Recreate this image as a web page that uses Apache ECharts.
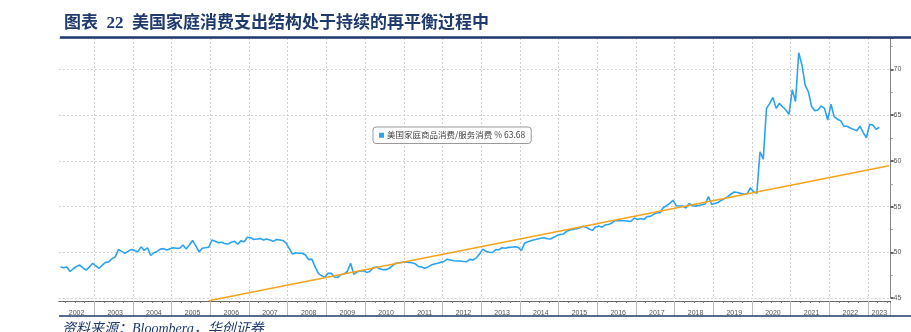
<!DOCTYPE html>
<html><head><meta charset="utf-8">
<script src="https://cdn.jsdelivr.net/npm/echarts@6/dist/echarts.min.js"></script>
<style>html,body{margin:0;padding:0;background:#fff}#c{width:911px;height:332px}</style>
</head><body><div id="c"></div>
<script>
const years = ['2002','2003','2004','2005','2006','2007','2008','2009','2010','2011','2012','2013','2014','2015','2016','2017','2018','2019','2020','2021','2022','2023'];
const yTicks = [45,50,55,60,65,70];
const seriesName = '美国家庭商品消费/服务消费';
// monthly values, 2002 starts in Feb, 2023 ends in Apr
const v2002 = [48.4,48.3,48.4,47.9,48.2,48.45,48.6,48.3,48.05,48.4,48.8];
const v2003 = [48.5,48.25,48.6,48.9,48.95,49.3,49.5,50.3,50.1,49.9,50.1,50.3];
const v2004 = [50.2,50.05,50.6,50.2,50.5,49.65,49.95,50.1,50.35,50.4,50.25,50.4];
const v2005 = [50.5,50.45,50.45,50.8,50.35,50.8,51.3,50.7,50.05,50.45,50.5,50.55];
const v2006 = [51.35,51.2,51.05,51.1,50.95,50.9,51.1,51.2,50.9,51.25,51.15,51.65];
const v2007 = [51.6,51.4,51.45,51.5,51.35,51.45,51.35,51.2,51.4,51.35,51.3,51.0];
const v2008 = [50.4,49.8,49.95,49.9,49.9,49.7,49.2,49.25,48.4,47.7,47.45,47.26];
const v2009 = [47.7,47.7,47.3,47.25,47.55,47.63,47.9,48.8,47.6,47.85,47.95,48.0];
const v2010 = [47.8,47.9,48.3,48.4,48.2,48.1,48.1,48.25,48.55,48.8,48.85,48.9];
const v2011 = [48.95,48.9,48.85,48.75,48.45,48.4,48.25,48.4,48.6,48.72,48.8,48.9];
const v2012 = [49.0,49.25,49.15,49.08,49.05,49.05,49.0,48.97,49.23,49.16,49.4,49.8];
const v2013 = [50.35,50.1,50.0,49.98,50.3,50.28,50.5,50.44,50.54,50.55,50.6,50.54];
const v2014 = [50.2,51.0,51.15,51.27,51.38,51.46,51.53,51.6,51.48,51.45,51.64,51.83];
const v2015 = [51.95,52.0,52.3,52.45,52.5,52.58,52.65,52.85,52.75,52.55,52.4,52.78];
const v2016 = [52.88,52.75,53.0,53.05,53.2,53.45,53.46,53.46,53.46,53.4,53.4,53.75];
const v2017 = [53.6,53.7,53.6,53.9,53.93,54.15,54.33,54.33,54.9,55.1,55.35,55.7];
const v2018 = [55.1,55.07,55.05,54.85,55.35,55.1,55.05,55.12,55.2,55.28,56.1,55.25];
const v2019 = [55.35,55.45,55.7,55.88,56.1,56.38,56.6,56.55,56.45,56.38,56.4,57.05];
const v2020 = [56.63,56.45,61.0,60.2,65.75,66.3,66.95,65.75,66.3,65.93,65.57,65.1];
const v2021 = [67.8,66.5,71.84,70.5,68.3,67.57,65.96,65.5,65.57,66.0,65.75,64.47];
const v2022 = [66.2,64.84,64.55,64.4,63.8,63.8,63.6,63.45,63.3,63.8,63.1,62.54];
const v2023 = [64.0,63.93,63.45,63.68];
const trendStart = ['2005-12', 44.7];
const trendEnd = ['2023-07', 59.48];

const categories = [];
years.forEach(y => {
  for (let m = 1; m <= 12; m++) {
    if (y === '2002' && m < 2) continue;
    if (y === '2023' && m > 7) continue;
    categories.push(y + '-' + String(m).padStart(2, '0'));
  }
});
const blue = [].concat(v2002,v2003,v2004,v2005,v2006,v2007,v2008,v2009,v2010,v2011,v2012,v2013,v2014,v2015,v2016,v2017,v2018,v2019,v2020,v2021,v2022,v2023);
const last = blue[blue.length - 1];

const navy = '#1f3a6d';
const chart = echarts.init(document.getElementById('c'), null, {renderer: 'canvas'});
chart.setOption({
  animation: false,
  backgroundColor: '#fff',
  title: {
    text: '图表  22  美国家庭消费支出结构处于持续的再平衡过程中',
    left: 59, top: 10,
    textStyle: {fontSize: 17, fontWeight: 'bold', color: navy, fontFamily: '"Liberation Serif","Noto Sans CJK SC"'}
  },
  legend: {
    data: [seriesName],
    left: 373, top: 127,
    padding: [4, 6], itemWidth: 5, itemHeight: 5, icon: 'rect',
    borderColor: '#9a9a9a', borderWidth: 1, borderRadius: 3, backgroundColor: '#fff',
    formatter: n => n + ' % ' + last.toFixed(2),
    textStyle: {fontSize: 8.5, color: '#444', fontFamily: '"Noto Sans CJK SC"', padding: [0,0,0,-2]}
  },
  grid: {left: 58.8, right: 20.4, top: 38, bottom: 34},
  xAxis: [{
    type: 'category', data: categories, boundaryGap: true, offset: 3,
    axisLine: {lineStyle: {color: '#666', width: 1}},
    axisTick: {show: true, length: 15, interval: (i, v) => v.endsWith('-01'), lineStyle: {color: '#bbb'}},
    axisLabel: {interval: (i, v) => v.endsWith('-07') || v === '2023-04', formatter: v => v.slice(0, 4),
      fontSize: 7, color: '#555', margin: 9, fontFamily: 'Arial, "Liberation Sans"'},
    splitLine: {show: true, interval: (i, v) => v.endsWith('-01'), lineStyle: {color: '#cfcfcf', type: [2, 2]}}
  }, {
    type: 'category', data: categories, boundaryGap: true, offset: 3, position: 'bottom',
    axisLine: {show: false},
    axisTick: {show: true, length: 2, interval: (i, v) => /-(04|07|10)$/.test(v), lineStyle: {color: '#777'}},
    axisLabel: {show: false}, splitLine: {show: false}
  }],
  yAxis: {
    type: 'value', position: 'right', min: 45, max: 73.45, interval: 5,
    axisLine: {show: true, lineStyle: {color: '#888'}},
    axisTick: {show: true, length: 3, lineStyle: {color: '#333', width: 1.5}},
    minorTick: {show: true, splitNumber: 2, length: 2, lineStyle: {color: '#999'}},
    axisLabel: {fontSize: 7, color: '#555', margin: 3, showMaxLabel: false,
      formatter: v => yTicks.includes(v) ? String(v) : '', fontFamily: 'Arial, "Liberation Sans"'},
    splitLine: {show: true, lineStyle: {color: '#cfcfcf', type: [2, 2]}}
  },
  series: [{
    name: seriesName, type: 'line', data: blue, symbol: 'none', color: '#2ba3f2',
    lineStyle: {color: '#2ba3f2', width: 1.6},
    markLine: {
      silent: true, symbol: 'none', data: [{yAxis: last}],
      lineStyle: {opacity: 0},
      label: {position: 'end', distance: 2, formatter: () => last.toFixed(2), color: '#fff',
        backgroundColor: '#1e8fe6', padding: [2, 3], borderRadius: 2, fontSize: 7}
    }
  }, {
    name: 'trend', type: 'line', data: [trendStart, trendEnd], symbol: 'none', clip: false,
    lineStyle: {color: '#f5a31d', width: 1.6}, color: '#f5a31d'
  }],
  graphic: [
    {type: 'line', shape: {x1: 60, y1: 37.5, x2: 911, y2: 37.5}, style: {stroke: navy, lineWidth: 2.5}, z: 100},
    {type: 'line', shape: {x1: 59, y1: 316, x2: 911, y2: 316}, style: {stroke: navy, lineWidth: 1.5}, z: 100},
    {type: 'text', left: 62, top: 322, style: {text: '资料来源：Bloomberg，华创证券', fontSize: 14, fontStyle: 'italic',
      fill: navy, fontFamily: '"Liberation Serif","Noto Sans CJK SC"'}}
  ]
});
</script></body></html>
